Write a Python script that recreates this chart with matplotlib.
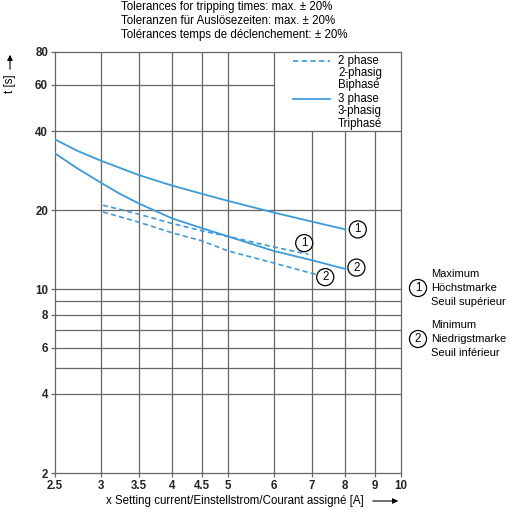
import matplotlib.pyplot as plt
from matplotlib.lines import Line2D

plt.rcParams['font.family'] = ['Liberation Sans', 'DejaVu Sans']

# tripping curves: x = setting current multiple, t in seconds
x3_max = [2.5, 2.73, 3.0, 3.5, 4.0, 4.5, 5.0, 6.0, 7.0, 8.0]
t3_max = [37.2, 33.7, 30.9, 27.2, 24.8, 23.1, 21.7, 19.6, 18.1, 16.9]
x3_min = [2.5, 2.73, 3.0, 3.24, 3.5, 4.0, 4.5, 5.0, 6.0, 7.0, 8.0]
t3_min = [32.9, 28.9, 25.5, 23.1, 21.2, 18.6, 17.1, 15.9, 14.0, 12.9, 11.95]
x2_max = [3.03, 3.5, 4.0, 4.5, 5.0, 6.0, 6.9]
t2_max = [20.9, 19.3, 17.8, 16.7, 15.9, 14.5, 13.6]
x2_min = [3.03, 3.5, 4.0, 4.5, 5.0, 6.0, 7.1]
t2_min = [19.7, 18.0, 16.4, 15.3, 14.0, 12.6, 11.4]

x_ticks = [2.5, 3, 3.5, 4, 4.5, 5, 6, 7, 8, 9, 10]
x_tick_labels = ['2.5', '3', '3.5', '4', '4.5', '5', '6', '7', '8', '9', '10']
y_ticks = [2, 4, 6, 8, 10, 20, 40, 60, 80]

title_lines = ['Tolerances for tripping times: max. \u00b1 20%',
               'Toleranzen f\u00fcr Ausl\u00f6sezeiten: max. \u00b1 20%',
               'Tol\u00e9rances temps de d\u00e9clenchement: \u00b1 20%']
legend_2ph = ['2 phase', '2-phasig', 'Biphas\u00e9']
legend_3ph = ['3 phase', '3-phasig', 'Triphas\u00e9']

blue = '#3a9ade'
gridc = '#666666'
dash = (0, (3, 2))

fig = plt.figure(figsize=(5.15, 5.15), dpi=100)
ax = fig.add_axes([55 / 515, 1 - 473 / 515, 346 / 515, 421 / 515])
ax.set_xscale('log')
ax.set_yscale('log')
ax.set_xlim(2.5, 10)
ax.set_ylim(2, 80)

# grid, leaving the legend corner (x 6..10, t 40..80) free
for y in [4, 5, 6, 7, 8, 9, 10, 20, 40]:
    ax.hlines(y, 2.5, 10, color=gridc, lw=0.9, zorder=1)
ax.hlines(60, 2.5, 6, color=gridc, lw=0.9, zorder=1)
for x in [3, 3.5, 4, 4.5, 5, 6]:
    ax.vlines(x, 2, 80, color=gridc, lw=0.9, zorder=1)
for x in [7, 8, 9]:
    ax.vlines(x, 2, 40, color=gridc, lw=0.9, zorder=1)

ax.plot(x3_max, t3_max, color=blue, lw=1.3, zorder=3)
ax.plot(x3_min, t3_min, color=blue, lw=1.3, zorder=3)
ax.plot(x2_max, t2_max, color=blue, lw=1.2, ls=dash, zorder=3)
ax.plot(x2_min, t2_min, color=blue, lw=1.2, ls=dash, zorder=3)

circ = dict(boxstyle='circle,pad=0.22', fc='white', ec='black', lw=0.9)
lab = dict(fontsize=8.3, ha='center', va='center', bbox=circ, textcoords='offset points')
ax.annotate('1', (x3_max[-1], t3_max[-1]), xytext=(9, 0), **lab)
ax.annotate('2', (x3_min[-1], t3_min[-1]), xytext=(8, 1), **lab)
ax.annotate('1', (x2_max[-1], t2_max[-1]), xytext=(-3, 8), **lab)
ax.annotate('2', (x2_min[-1], t2_min[-1]), xytext=(7, -2), **lab)

ax.set_xticks(x_ticks)
ax.set_xticklabels(x_tick_labels, fontweight='bold')
ax.set_yticks(y_ticks)
ax.set_yticklabels([str(v) for v in y_ticks], fontweight='bold')
ax.minorticks_off()
ax.tick_params(length=3, width=0.9, color=gridc, labelsize=8.3, labelcolor='#222222', pad=2)
for s in ax.spines.values():
    s.set_color(gridc)
    s.set_linewidth(0.9)

# legend drawn by hand so the sample line sits on the first text line
for words, style, y0 in [(legend_2ph, dash, 0.979), (legend_3ph, '-', 0.888)]:
    ax.add_line(Line2D([0.688, 0.795], [y0, y0], transform=ax.transAxes,
                       color=blue, lw=1.25, ls=style))
    for k, w in enumerate(words):
        ax.text(0.818, y0 - 0.029 * k, w, transform=ax.transAxes, fontsize=8.3,
                ha='left', va='center')

for i, line in enumerate(title_lines):
    fig.text(121 / 515, 1 - (7 + 14 * i) / 515, line, fontsize=8.3, ha='left', va='center')

arrow = dict(arrowstyle='-|>', color='black', lw=0.8, mutation_scale=8)
fig.text(10 / 515, 1 - 84 / 515, 't [s]', rotation=90, fontsize=8.3, ha='center', va='center')
ax.annotate('', xy=(10 / 515, 1 - 52 / 515), xytext=(10 / 515, 1 - 72 / 515),
            xycoords='figure fraction', textcoords='figure fraction',
            arrowprops=arrow, annotation_clip=False)
fig.text(364 / 515, 1 - 501 / 515, 'x Setting current/Einstellstrom/Courant assign\u00e9 [A]',
         fontsize=8.3, ha='right', va='center')
ax.annotate('', xy=(401 / 515, 1 - 501 / 515), xytext=(370 / 515, 1 - 501 / 515),
            xycoords='figure fraction', textcoords='figure fraction',
            arrowprops=arrow, annotation_clip=False)

# marker explanation on the right
side = [('1', ['Maximum', 'H\u00f6chstmarke', 'Seuil sup\u00e9rieur'], 288),
        ('2', ['Minimum', 'Niedrigstmarke', 'Seuil inf\u00e9rieur'], 339)]
for num, words, yc in side:
    fig.text(418 / 515, 1 - yc / 515, num, fontsize=8.3, ha='center', va='center', bbox=circ)
    for k, w in enumerate(words):
        fig.text(431 / 515, 1 - (yc - 14 + 14 * k) / 515, w, fontsize=8, ha='left', va='center')

fig.savefig('out.png', dpi=100)
